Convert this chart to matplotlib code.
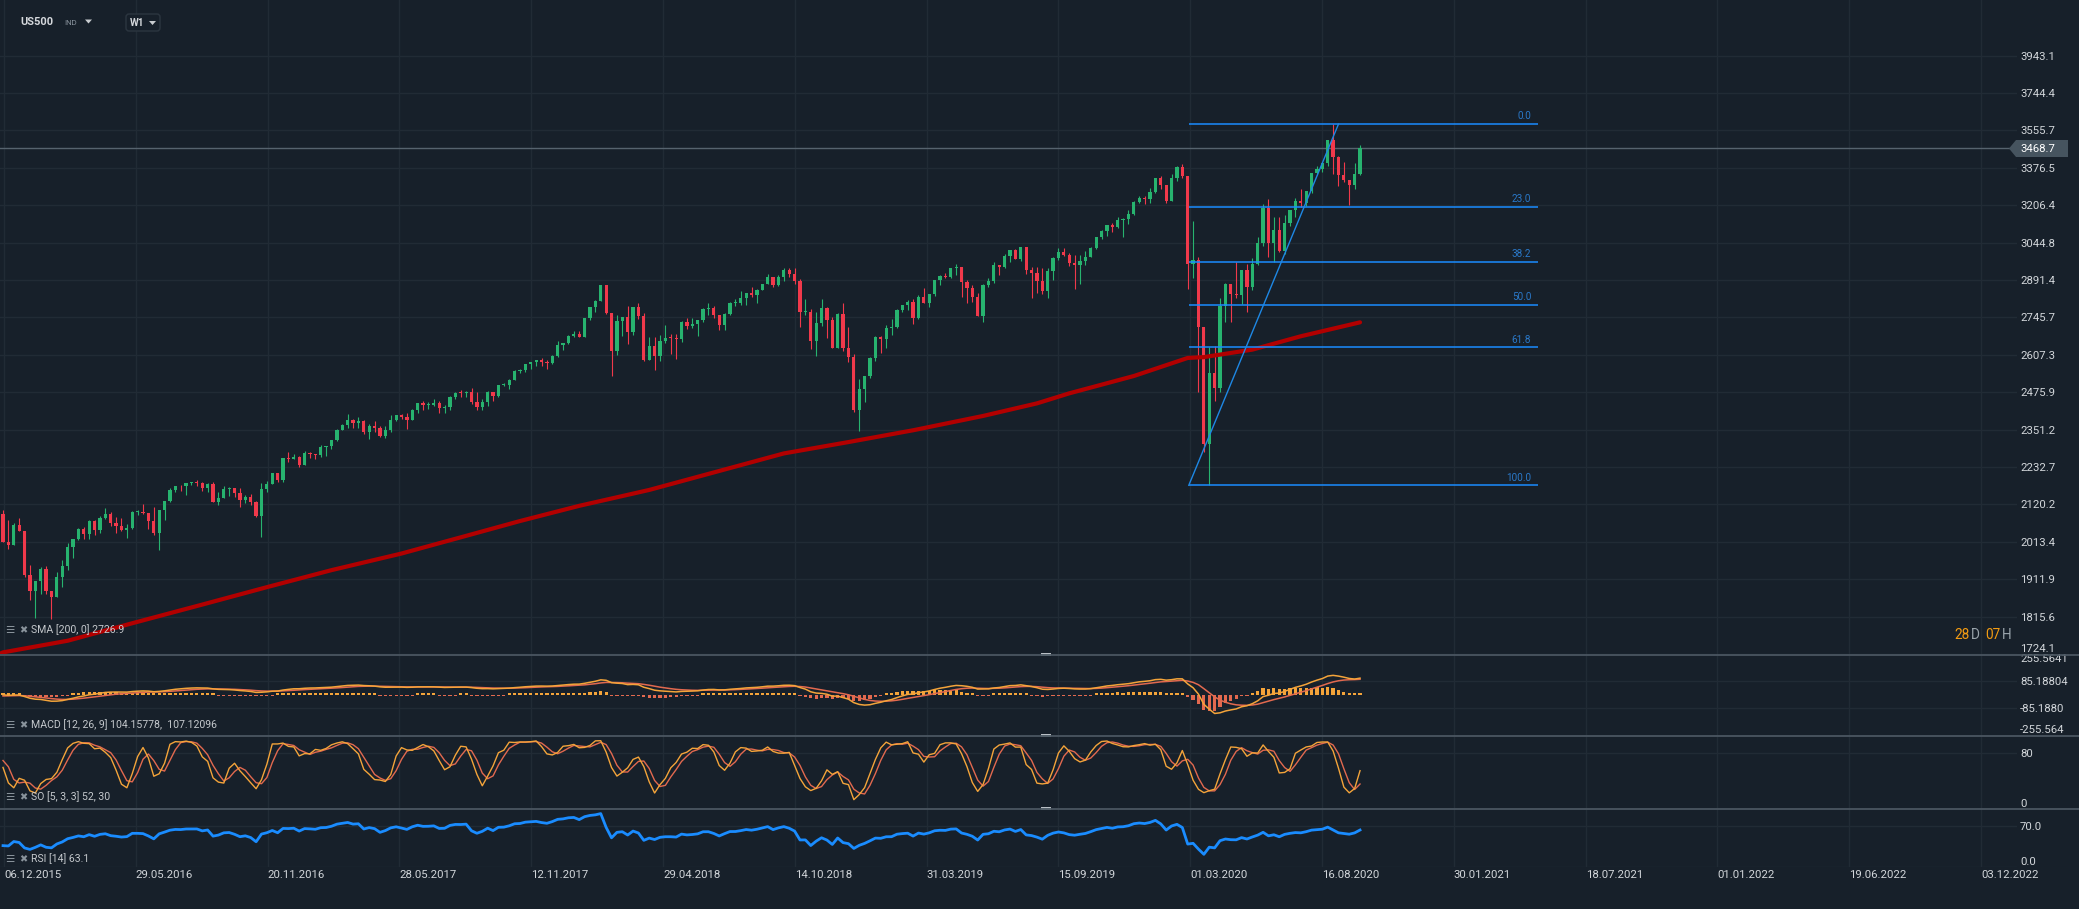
import numpy as np
import pandas as pd
import matplotlib
matplotlib.use('Agg')
import matplotlib.pyplot as plt
from matplotlib.patches import Polygon, FancyBboxPatch, Rectangle
from matplotlib.ticker import NullLocator

plt.rcParams['font.family'] = ['Roboto', 'DejaVu Sans']

# weekly US500 candles, week of 06.12.2015 .. week of 04.10.2020
closes = [
    2012.4, 2005.6, 2061.0, 2043.9, 1922.0, 1880.3, 1906.9, 1940.2, 1880.0, 1864.8,
    1917.8, 1948.0, 2000.0, 2022.2, 2049.6, 2035.9, 2072.8, 2047.6, 2080.7, 2091.6,
    2065.3, 2057.1, 2046.6, 2052.3, 2099.1, 2099.1, 2096.1, 2071.2, 2037.4, 2103.0,
    2129.9, 2161.7, 2175.0, 2173.6, 2182.9, 2184.1, 2183.9, 2169.0, 2180.0, 2127.8,
    2139.2, 2164.7, 2168.3, 2153.7, 2133.0, 2141.2, 2126.4, 2085.2, 2164.5, 2181.9,
    2213.4, 2192.0, 2259.5, 2258.1, 2263.8, 2238.8, 2277.0, 2274.6, 2271.3, 2294.7,
    2297.4, 2316.1, 2351.2, 2367.3, 2383.1, 2372.6, 2378.3, 2344.0, 2362.7, 2355.5,
    2329.0, 2348.7, 2384.2, 2399.3, 2390.9, 2381.7, 2415.8, 2439.1, 2431.8, 2433.2,
    2438.3, 2423.4, 2425.2, 2459.3, 2472.5, 2472.1, 2476.8, 2441.3, 2425.6, 2443.1,
    2476.6, 2461.4, 2500.2, 2502.2, 2519.4, 2549.3, 2553.2, 2575.2, 2581.1, 2587.8,
    2582.3, 2578.9, 2602.4, 2642.2, 2651.5, 2675.8, 2683.3, 2673.6, 2743.2, 2786.2,
    2810.3, 2872.9, 2762.1, 2619.6, 2732.2, 2747.3, 2691.3, 2786.6, 2752.0, 2588.3,
    2640.9, 2604.5, 2656.3, 2670.1, 2669.9, 2663.4, 2727.7, 2713.0, 2721.3, 2734.6,
    2779.0, 2779.7, 2754.9, 2718.4, 2759.8, 2801.3, 2801.8, 2818.8, 2840.4, 2833.3,
    2850.1, 2874.7, 2901.5, 2871.7, 2905.0, 2929.7, 2914.0, 2885.6, 2767.1, 2767.8,
    2658.7, 2723.1, 2781.0, 2736.3, 2632.6, 2760.2, 2633.1, 2600.0, 2416.6, 2485.7,
    2531.9, 2596.3, 2670.7, 2664.8, 2706.5, 2707.9, 2775.6, 2792.7, 2803.7, 2743.1,
    2822.5, 2800.7, 2834.4, 2892.7, 2907.4, 2905.0, 2939.9, 2945.6, 2881.4, 2859.5,
    2826.1, 2752.1, 2873.3, 2887.0, 2950.5, 2941.8, 2990.4, 3013.8, 2976.6, 3025.9,
    2932.1, 2918.7, 2888.7, 2847.1, 2926.5, 2978.7, 3007.4, 2992.1, 2961.8, 2952.0,
    2970.3, 2986.2, 3022.6, 3066.9, 3093.1, 3120.5, 3110.3, 3141.0, 3145.9, 3168.8,
    3221.2, 3240.0, 3234.9, 3265.4, 3329.6, 3295.5, 3225.5, 3327.7, 3380.2, 3337.8,
    2954.2, 2972.4, 2711.0, 2304.9, 2541.5, 2488.7, 2789.8, 2874.6, 2836.7, 2830.7,
    2929.8, 2863.7, 2955.5, 3044.3, 3193.9, 3041.3, 3097.7, 3009.1, 3130.0, 3185.0,
    3224.7, 3215.6, 3271.1, 3351.3, 3372.9, 3397.2, 3508.0, 3427.0, 3341.0, 3319.5,
    3298.5, 3348.4, 3468.7,
]
highs = [
    2104, 2076, 2067, 2081, 2038, 1950, 1908, 1945, 1948, 1882,
    1930, 1962, 2009, 2022, 2052, 2056, 2075, 2074, 2087, 2111,
    2099, 2084, 2081, 2063, 2100, 2105, 2120, 2096, 2113, 2104,
    2131, 2169, 2176, 2178, 2183, 2188, 2193, 2187, 2184, 2187,
    2158, 2175, 2172, 2169, 2169, 2148, 2152, 2131, 2183, 2189,
    2214, 2214, 2260, 2278, 2273, 2268, 2282, 2280, 2273, 2301,
    2299, 2319, 2352, 2368, 2401, 2386, 2391, 2382, 2370, 2378,
    2363, 2362, 2398, 2400, 2403, 2406, 2418, 2440, 2446, 2441,
    2453, 2446, 2433, 2463, 2477, 2484, 2480, 2490, 2475, 2454,
    2480, 2475, 2501, 2508, 2520, 2552, 2557, 2576, 2582, 2588,
    2597, 2590, 2605, 2658, 2652, 2679, 2695, 2694, 2744, 2787,
    2811, 2873, 2870, 2763, 2754, 2748, 2789, 2787, 2802, 2762,
    2674, 2672, 2680, 2717, 2683, 2682, 2733, 2742, 2742, 2735,
    2780, 2801, 2790, 2753, 2764, 2804, 2816, 2848, 2841, 2863,
    2854, 2876, 2916, 2900, 2912, 2941, 2939, 2940, 2894, 2817,
    2778, 2767, 2815, 2785, 2747, 2761, 2800, 2708, 2611, 2520,
    2532, 2598, 2675, 2675, 2716, 2738, 2776, 2794, 2813, 2816,
    2831, 2860, 2836, 2893, 2910, 2918, 2940, 2954, 2932, 2892,
    2871, 2839, 2876, 2898, 2964, 2950, 2996, 3014, 3018, 3028,
    3027, 2944, 2943, 2939, 2940, 2985, 3021, 3022, 3002, 2992,
    2993, 3008, 3027, 3067, 3098, 3121, 3127, 3154, 3150, 3183,
    3226, 3248, 3247, 3282, 3330, 3337, 3285, 3347, 3385, 3393,
    3337, 3137, 2985, 2708, 2637, 2641, 2819, 2880, 2869, 2965,
    2933, 2955, 2980, 3068, 3211, 3233, 3155, 3155, 3165, 3186,
    3238, 3280, 3272, 3352, 3387, 3399, 3509, 3588, 3430, 3402,
    3321, 3397, 3483,
]
lows = [
    2012, 1993, 2005, 2043, 1918, 1857, 1812, 1872, 1872, 1810,
    1865, 1891, 1937, 1969, 2017, 2022, 2022, 2033, 2039, 2078,
    2058, 2039, 2044, 2025, 2049, 2088, 2092, 2050, 2033, 1992,
    2074, 2128, 2156, 2159, 2147, 2178, 2175, 2160, 2157, 2127,
    2119, 2139, 2145, 2142, 2114, 2124, 2119, 2083, 2028, 2156,
    2180, 2187, 2187, 2248, 2256, 2234, 2245, 2262, 2259, 2263,
    2268, 2288, 2313, 2349, 2358, 2355, 2355, 2336, 2322, 2344,
    2327, 2323, 2345, 2379, 2387, 2353, 2382, 2405, 2416, 2419,
    2430, 2405, 2407, 2415, 2452, 2459, 2461, 2437, 2417, 2417,
    2428, 2446, 2459, 2496, 2488, 2520, 2544, 2547, 2557, 2566,
    2566, 2557, 2576, 2600, 2624, 2646, 2674, 2673, 2672, 2737,
    2768, 2808, 2759, 2532, 2608, 2675, 2647, 2681, 2741, 2585,
    2587, 2553, 2586, 2650, 2612, 2594, 2655, 2701, 2704, 2676,
    2730, 2753, 2743, 2698, 2698, 2756, 2789, 2795, 2795, 2825,
    2802, 2850, 2874, 2864, 2867, 2886, 2903, 2874, 2710, 2755,
    2628, 2603, 2714, 2670, 2631, 2649, 2621, 2583, 2409, 2346,
    2443, 2525, 2585, 2613, 2631, 2681, 2704, 2766, 2775, 2722,
    2741, 2800, 2785, 2830, 2873, 2898, 2898, 2913, 2825, 2801,
    2805, 2750, 2728, 2862, 2878, 2913, 2938, 2964, 2975, 2970,
    2914, 2822, 2840, 2835, 2822, 2891, 2974, 2987, 2946, 2855,
    2874, 2952, 2984, 3018, 3060, 3074, 3091, 3108, 3070, 3124,
    3165, 3218, 3213, 3214, 3263, 3281, 3214, 3223, 3315, 3328,
    2855, 2901, 2478, 2280, 2177, 2447, 2476, 2728, 2727, 2822,
    2798, 2766, 2853, 2950, 3032, 2983, 2965, 3004, 2999, 3115,
    3154, 3200, 3204, 3260, 3341, 3355, 3386, 3349, 3293, 3310,
    3209, 3280, 3342,
]

# weeks before the first visible candle (only used to warm up the indicators)
pre_closes = [2104, 2078, 2092, 1971, 1989, 1921, 1961, 1958, 1932, 1951,
              2015, 2033, 2075, 2079, 2099, 2023, 2089, 2090, 2091]
pre_highs = [2114, 2112, 2103, 2102, 1993, 1986, 1976, 2021, 1970, 1953,
             2020, 2039, 2080, 2094, 2102, 2093, 2097, 2094, 2104]
pre_lows = [2063, 2071, 2052, 1970, 1867, 1903, 1909, 1937, 1908, 1872,
            1951, 2007, 2022, 2069, 2067, 2022, 2019, 2070, 2042]

# SMA(200) at sample candles
sma_idx = [-1, 0, 12, 24, 37, 49, 61, 74, 86, 96, 107, 120, 132, 145, 157,
           169, 182, 192, 198, 210, 220, 223, 232, 241, 252]
sma_val = [1722, 1728, 1756, 1799, 1846, 1891, 1936, 1981, 2030, 2072, 2116,
           2163, 2216, 2275, 2311, 2349, 2396, 2438, 2472, 2532, 2596, 2599,
           2626, 2675, 2727]

price_ticks = [1724.1, 1815.6, 1911.9, 2013.4, 2120.2, 2232.7, 2351.2, 2475.9,
               2607.3, 2745.7, 2891.4, 3044.8, 3206.4, 3376.5, 3555.7, 3744.4, 3943.1]
macd_ticks = [-255.564, -85.188, 85.18804, 255.5641]
macd_tick_labels = ['-255.564', '-85.1880', '85.18804', '255.5641']
so_ticks = [0, 80]
rsi_ticks = [0, 70]
date_labels = ['06.12.2015', '29.05.2016', '20.11.2016', '28.05.2017', '12.11.2017',
               '29.04.2018', '14.10.2018', '31.03.2019', '15.09.2019', '01.03.2020',
               '16.08.2020', '30.01.2021', '18.07.2021', '01.01.2022', '19.06.2022',
               '03.12.2022']

fib_ratios = [0.0, 0.23, 0.382, 0.5, 0.618, 1.0]
fib_labels = ['0.0', '23.0', '38.2', '50.0', '61.8', '100.0']
fib_high = 3587.0
fib_low = 2177.0
last_price = 3468.7

# colours
BG = '#17202a'
GRID = '#212b35'
TXT = '#d2d6da'
GREEN = '#27b36f'
RED = '#f0394b'
ORANGE = '#f4a43a'
SALMON = '#e2694f'
BLUE = '#1a8cff'

W, H = 2079, 909
R = 2017 / W
tick_pos = [0.2 + 24.475 * k for k in range(len(date_labels))]

# indicators
c_all = pd.Series(pre_closes + closes, dtype=float)
h_all = pd.Series(pre_highs + highs, dtype=float)
l_all = pd.Series(pre_lows + lows, dtype=float)
o_all = c_all.shift(1).fillna(c_all.iloc[0])
n_pre = len(pre_closes)
idx = np.arange(len(c_all)) - n_pre
vis = idx >= 0

ema12 = c_all.ewm(span=12, adjust=False).mean()
ema26 = c_all.ewm(span=26, adjust=False).mean()
macd = ema12 - ema26
signal = macd.ewm(span=9, adjust=False).mean()
hist = macd - signal

ll = l_all.rolling(5).min()
hh = h_all.rolling(5).max()
raw_k = 100 * (c_all - ll) / (hh - ll)
so_k = raw_k.rolling(3).mean()
so_d = so_k.rolling(3).mean()

dlt = c_all.diff()
up = dlt.clip(lower=0).ewm(alpha=1 / 14, adjust=False).mean()
dn = (-dlt.clip(upper=0)).ewm(alpha=1 / 14, adjust=False).mean()
rsi = 100 - 100 / (1 + up / dn)

fig = plt.figure(figsize=(W / 100, H / 100), dpi=100, facecolor=BG)


def panel(top, bottom):
    ax = fig.add_axes([0, 1 - bottom / H, R, (bottom - top) / H])
    ax.set_facecolor(BG)
    for s in ax.spines.values():
        s.set_visible(False)
    ax.set_xlim(-0.56, 374.0)
    ax.tick_params(axis='x', bottom=False, labelbottom=False)
    ax.yaxis.tick_right()
    ax.tick_params(axis='y', length=0, pad=2.2, labelsize=8.2, labelcolor=TXT)
    for t in tick_pos:
        ax.axvline(t, color=GRID, lw=1, zorder=0)
    return ax


# ---- main price panel
ax = panel(0, 654)
ax.set_yscale('log')
ax.set_ylim(1724.1, 4258)
ax.yaxis.set_minor_locator(NullLocator())
ax.set_yticks(price_ticks)
ax.set_yticklabels([f'{v:.1f}' for v in price_ticks])
ax.get_yticklabels()[0].set_va('bottom')
for v in price_ticks:
    ax.axhline(v, color=GRID, lw=1, zorder=0)

xv = idx[vis]
o = o_all[vis].values
c = c_all[vis].values
hi = np.maximum(h_all[vis].values, np.maximum(o, c))
lo = np.minimum(l_all[vis].values, np.minimum(o, c))
cols = np.where(c >= o, GREEN, RED)
ax.vlines(xv, lo, hi, colors=cols, lw=0.8, zorder=3)
bot = np.minimum(o, c)
top = np.maximum(np.maximum(o, c), bot * 1.0012)
ax.bar(xv, top - bot, bottom=bot, width=0.6, color=cols, lw=0, zorder=3)

ax.plot(sma_idx, sma_val, color='#b20000', lw=3, solid_capstyle='round', zorder=4)
ax.axhline(last_price, color='#56636e', lw=1, zorder=2)

for r, lab in zip(fib_ratios, fib_labels):
    p = fib_high * (fib_low / fib_high) ** r
    ax.hlines(p, 220.2, 285.0, color=BLUE, lw=1.1, zorder=5)
    ax.annotate(lab, (283.8, p), xytext=(0, 2), textcoords='offset points',
                ha='right', va='bottom', fontsize=7.2, color='#2a78c8', zorder=5)
ax.plot([220.2, 248.0], [fib_low, fib_high], color='#1e88e5', lw=1, zorder=5)

# ---- MACD panel
axm = panel(654, 735)
axm.set_ylim(-255.564, 255.5641)
axm.set_yticks(macd_ticks)
axm.set_yticklabels(macd_tick_labels)
axm.get_yticklabels()[0].set_va('bottom')
axm.get_yticklabels()[-1].set_va('top')
for v in macd_ticks[1:3]:
    axm.axhline(v, color=GRID, lw=1, zorder=0)
hv = hist[vis].values
hbar = np.sign(hv) * np.maximum(np.abs(hv), 9)
axm.bar(xv, hbar, width=0.6, color=np.where(hv >= 0, ORANGE, SALMON), lw=0, zorder=2)
axm.plot(xv, signal[vis].values, color=SALMON, lw=1.1, zorder=3)
axm.plot(xv, macd[vis].values, color=ORANGE, lw=1.1, zorder=3)

# ---- stochastic panel
axs = panel(735, 808)
axs.set_ylim(-8, 108.8)
axs.set_yticks(so_ticks)
axs.set_yticklabels(['0', '80'])
axs.axhline(80, color=GRID, lw=1, zorder=0)
axs.plot(xv, so_d[vis].values, color=SALMON, lw=1.0, zorder=3)
axs.plot(xv, so_k[vis].values, color=ORANGE, lw=1.0, zorder=3)

# ---- RSI panel
axr = panel(808, 867)
axr.set_ylim(0, 100)
axr.set_yticks(rsi_ticks)
axr.set_yticklabels(['0.0', '70.0'])
axr.get_yticklabels()[0].set_va('bottom')
axr.axhline(70, color=GRID, lw=1, zorder=0)
axr.axhline(0.6, color=GRID, lw=1, zorder=0)
axr.plot(xv, rsi[vis].values, color=BLUE, lw=2, zorder=3)

for t, lab in zip(tick_pos, date_labels):
    axr.text(t, (867 - 875) / 59, lab, transform=axr.get_xaxis_transform(),
             ha='left', va='center', fontsize=8.2, color=TXT, clip_on=False)

# ---- overlay in pixel coordinates
ov = fig.add_axes([0, 0, 1, 1], zorder=10)
ov.set_xlim(0, W)
ov.set_ylim(H, 0)
ov.axis('off')

for y in (654.5, 735.5, 808.5):
    ov.plot([0, W], [y, y], color='#4a5661', lw=1.3)
    ov.add_patch(Rectangle((1041, y - 1.3), 10, 2.6, color='#b9bfc5', lw=0))

# current price tag
ov.add_patch(Polygon([(2009, 148.5), (2016, 140), (2068, 140), (2068, 157), (2016, 157)],
                     closed=True, color='#46545f', lw=0))
ov.text(2020, 148.5, f'{last_price:.1f}', fontsize=8.2, color='white', va='center', ha='left')

# header
ov.text(20, 22, 'US500', fontsize=8, fontweight='bold', color='#d5d8dc', va='center')
ov.text(64, 23, 'IND', fontsize=5.6, color='#8a949e', va='center')
ov.add_patch(Polygon([(85, 19.5), (92, 19.5), (88.5, 23.5)], closed=True, color='#c8ccd0', lw=0))
ov.add_patch(FancyBboxPatch((126, 14), 34, 17, boxstyle='round,pad=0,rounding_size=3',
                            fc=BG, ec='#2c3640', lw=1))
ov.text(130, 23, 'W1', fontsize=7.2, fontweight='bold', color='#d5d8dc', va='center')
ov.add_patch(Polygon([(149, 21), (156, 21), (152.5, 25)], closed=True, color='#c8ccd0', lw=0))

# indicator captions
captions = [(630, 'SMA [200, 0] 2726.9'),
            (725, 'MACD [12, 26, 9] 104.15778,  107.12096'),
            (797, 'SO [5, 3, 3] 52, 30'),
            (859, 'RSI [14] 63.1')]
for y, s in captions:
    ov.text(5, y, '☰', fontsize=7.5, color='#8a949c', va='center', ha='left')
    ov.text(19, y, '✖', fontsize=7, color='#8a949c', va='center', ha='left')
    ov.text(31, y, s, fontsize=7.6, color='#c4c8cc', va='center', ha='left')

# countdown
for x, s, col in [(1954, '28', '#f39c12'), (1971, 'D', '#9aa4ac'),
                  (1985, '07', '#f39c12'), (2002, 'H', '#9aa4ac')]:
    ov.text(x, 635, s, fontsize=9.8, color=col, va='center', ha='left')

fig.savefig('out.png', dpi=100, facecolor=BG)
